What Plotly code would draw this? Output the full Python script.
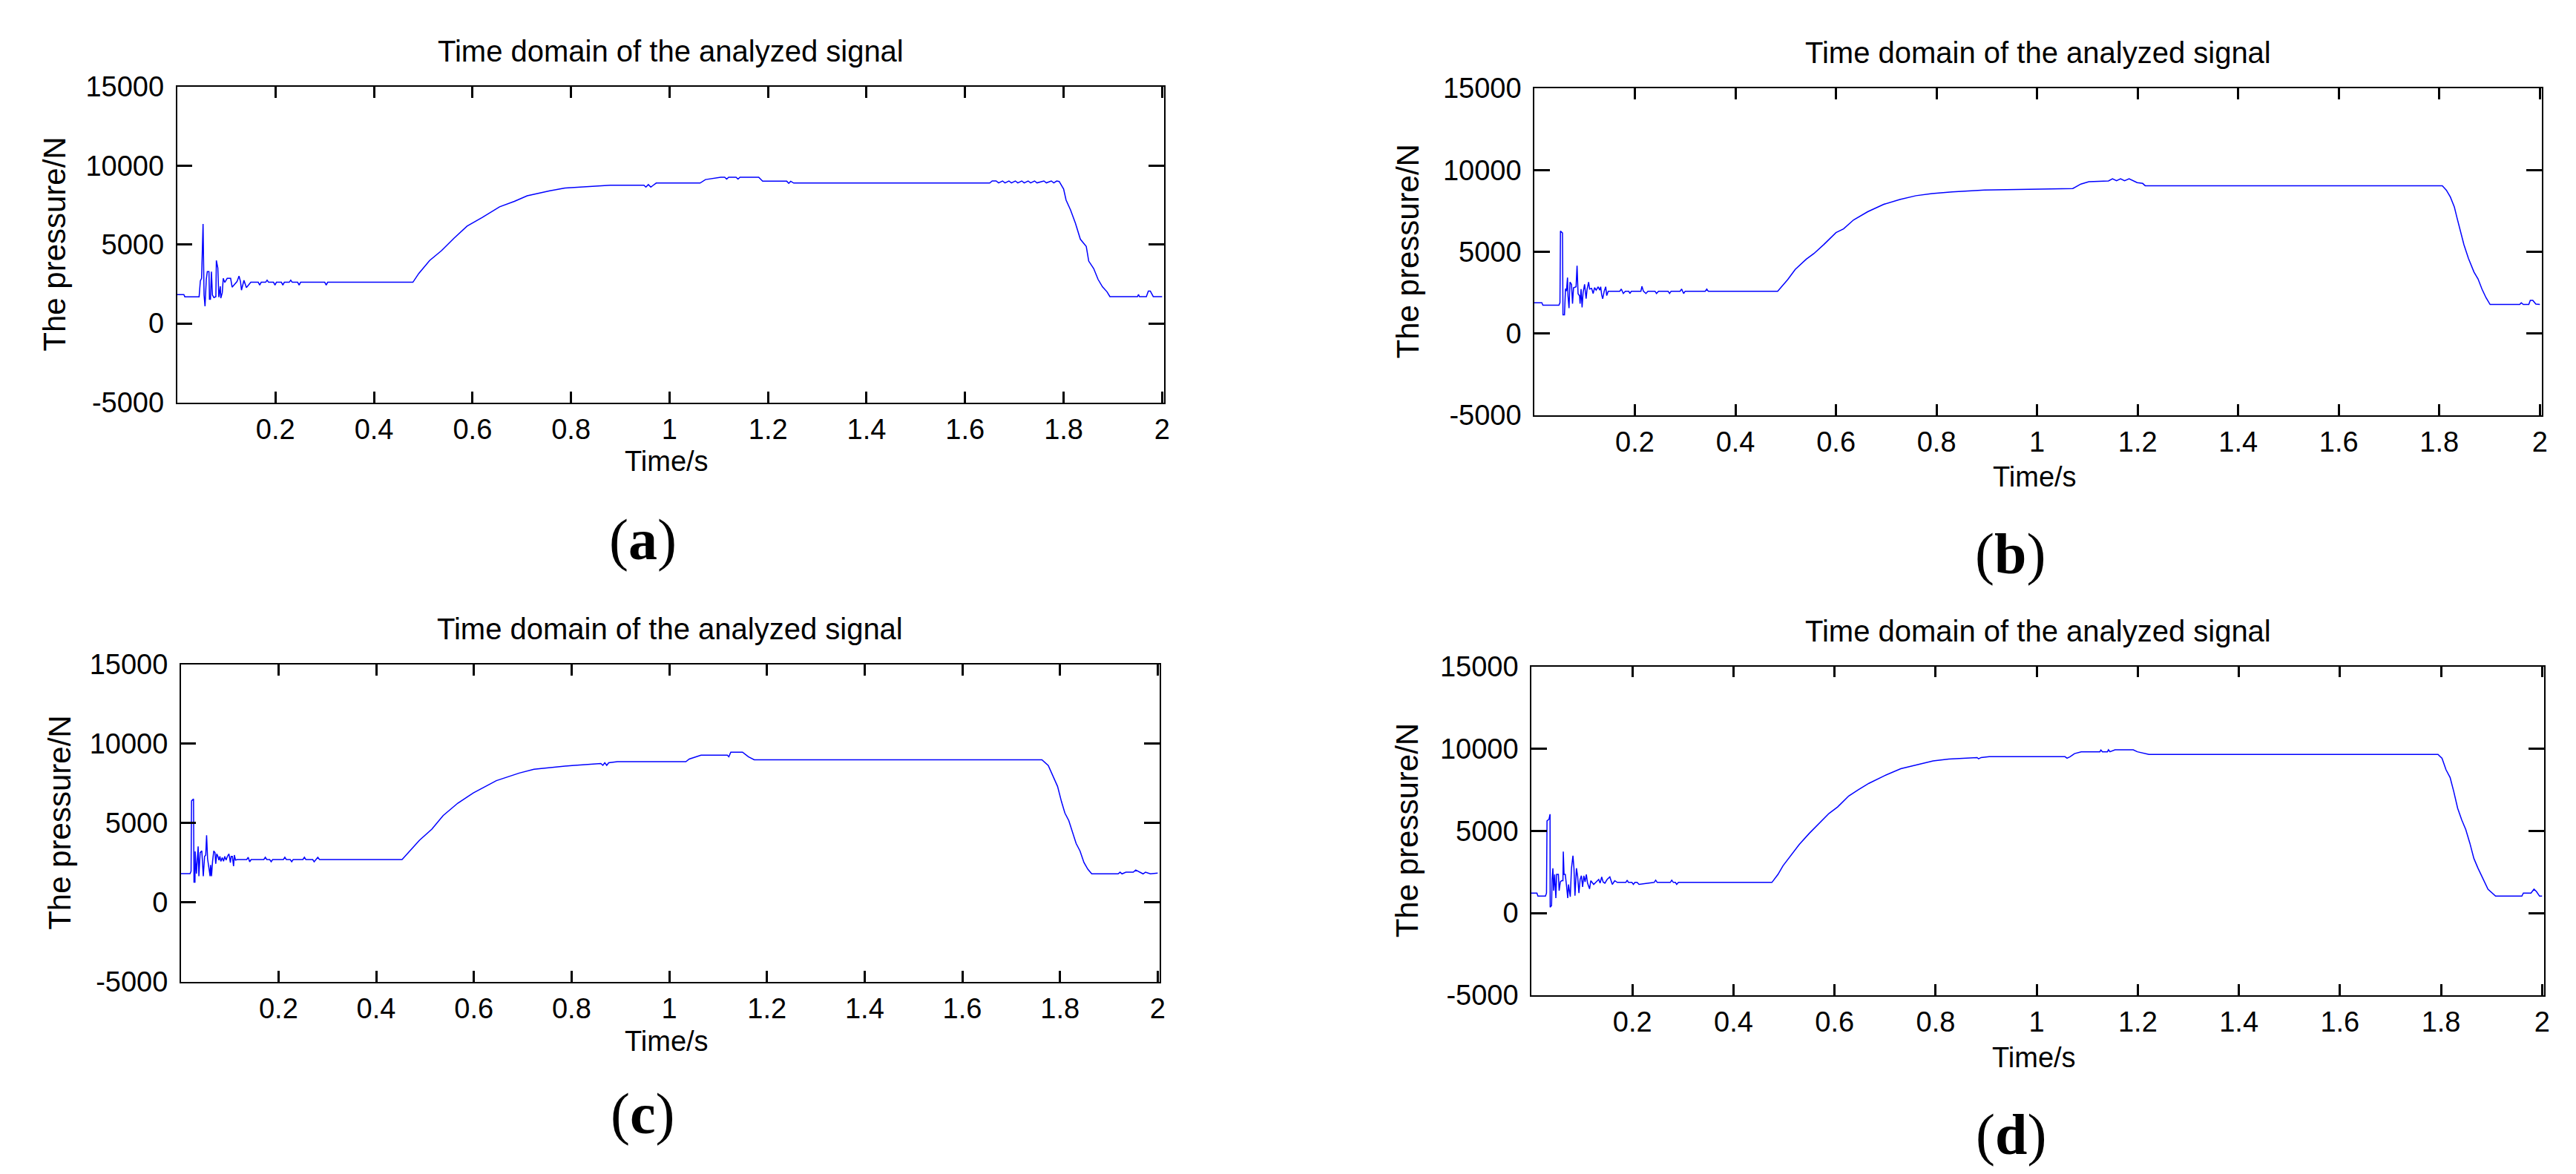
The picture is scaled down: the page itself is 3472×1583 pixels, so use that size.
import plotly.graph_objects as go

W, H = 3472, 1583

# ---------------- data ----------------
x_tickvals = [0.2, 0.4, 0.6, 0.8, 1.0, 1.2, 1.4, 1.6, 1.8, 2.0]
x_ticktext = ["0.2", "0.4", "0.6", "0.8", "1", "1.2", "1.4", "1.6", "1.8", "2"]
y_tickvals = [-5000, 0, 5000, 10000, 15000]
y_ticktext = ["-5000", "0", "5000", "10000", "15000"]

title_text = "Time domain of the analyzed signal"
xlabel_text = "Time/s"
ylabel_text = "The pressure/N"
panel_letters = ["a", "b", "c", "d"]

# panel (a)
t_a = [0.000, 0.014, 0.016, 0.045, 0.0475, 0.050, 0.053, 0.055, 0.057, 0.0596, 0.0616, 0.065, 0.066,
       0.068, 0.070, 0.072, 0.075, 0.079, 0.080, 0.083, 0.085, 0.088, 0.089, 0.092, 0.094, 0.097,
       0.102, 0.109, 0.112, 0.117, 0.122, 0.126, 0.129, 0.131, 0.136, 0.141, 0.150, 0.165, 0.168,
       0.171, 0.180, 0.183, 0.186, 0.196, 0.199, 0.202, 0.212, 0.215, 0.218, 0.228, 0.231, 0.234,
       0.245, 0.248, 0.251, 0.300, 0.303, 0.306, 0.352, 0.479, 0.491, 0.513, 0.537, 0.562, 0.589,
       0.620, 0.655, 0.685, 0.711, 0.757, 0.788, 0.835, 0.880, 0.948, 0.952, 0.957, 0.962, 0.967,
       0.973, 1.062, 1.073, 1.104, 1.112, 1.116, 1.120, 1.135, 1.139, 1.143, 1.181, 1.189, 1.238,
       1.242, 1.246, 1.252, 1.650, 1.655, 1.663, 1.668, 1.676, 1.681, 1.689, 1.694, 1.702, 1.707,
       1.715, 1.720, 1.728, 1.733, 1.741, 1.746, 1.760, 1.765, 1.775, 1.780, 1.786, 1.791, 1.800,
       1.805, 1.814, 1.824, 1.829, 1.834, 1.846, 1.851, 1.861, 1.870, 1.879, 1.888, 1.894, 1.950,
       1.952, 1.954, 1.968, 1.972, 1.976, 1.982, 2.000]
p_a = [1830, 1830, 1690, 1690, 2700, 2860, 6300, 1800, 1090, 2800, 3280, 3280, 1530,
       1530, 3280, 1800, 1640, 1700, 3990, 3520, 1670, 2350, 1600, 1950, 2860, 2600,
       2860, 2860, 2300, 2500, 2660, 3000, 2660, 2110, 2730, 2270, 2610, 2610, 2430,
       2610, 2610, 2740, 2610, 2610, 2430, 2610, 2610, 2430, 2610, 2610, 2740, 2610,
       2610, 2430, 2610, 2610, 2430, 2610, 2610, 2610, 3170, 3990, 4610, 5390, 6170,
       6720, 7390, 7740, 8090, 8410, 8580, 8690, 8760, 8760, 8640, 8800, 8640, 8760,
       8900, 8900, 9120, 9270, 9270, 9150, 9270, 9270, 9150, 9270, 9270, 9013, 9013,
       8880, 9013, 8900, 8900, 9030, 9030, 8910, 9030, 8910, 9030, 8910, 9030, 8910,
       9030, 8910, 9030, 8910, 9030, 8910, 9030, 8910, 9030, 8910, 9030, 9000, 8520,
       7820, 7200, 6350, 5810, 5340, 4880, 3950, 3480, 2790, 2320, 2010, 1700, 1700,
       1830, 1700, 1700, 2050, 2050, 1700, 1700]

# panel (b)
t_b = [0.000, 0.015, 0.017, 0.049, 0.051, 0.052, 0.056, 0.057, 0.060, 0.062, 0.064, 0.066, 0.067,
       0.069, 0.071, 0.074, 0.076, 0.078, 0.083, 0.085, 0.087, 0.090, 0.091, 0.093, 0.095, 0.097,
       0.100, 0.103, 0.105, 0.108, 0.110, 0.114, 0.117, 0.120, 0.123, 0.127, 0.130, 0.132, 0.134,
       0.136, 0.139, 0.142, 0.144, 0.147, 0.170, 0.173, 0.177, 0.181, 0.188, 0.190, 0.193, 0.212,
       0.214, 0.217, 0.222, 0.226, 0.230, 0.240, 0.243, 0.247, 0.266, 0.269, 0.272, 0.290, 0.293,
       0.297, 0.300, 0.340, 0.343, 0.346, 0.484, 0.504, 0.519, 0.541, 0.556, 0.576, 0.600, 0.615,
       0.635, 0.663, 0.695, 0.727, 0.759, 0.791, 0.831, 0.895, 1.071, 1.087, 1.103, 1.142, 1.150,
       1.158, 1.166, 1.174, 1.183, 1.191, 1.199, 1.210, 1.215, 1.806, 1.814, 1.822, 1.830, 1.835,
       1.842, 1.849, 1.858, 1.869, 1.877, 1.885, 1.893, 1.901, 1.960, 1.963, 1.967, 1.978, 1.981,
       1.986, 1.992, 2.000]
p_b = [1880, 1880, 1730, 1730, 1890, 6270, 6150, 1150, 1150, 2740, 2600, 3420, 2300,
       1560, 3150, 3000, 1830, 2800, 2860, 4150, 2440, 2300, 1830, 2720, 1600, 2500,
       3010, 2140, 2720, 3150, 2720, 2760, 2450, 2810, 2650, 2860, 2650, 2860, 2360,
       2130, 2590, 2860, 2320, 2590, 2590, 2720, 2450, 2590, 2590, 2450, 2590, 2590,
       2890, 2590, 2450, 2590, 2590, 2590, 2450, 2590, 2590, 2450, 2590, 2590, 2720,
       2450, 2590, 2590, 2720, 2590, 2590, 3300, 3920, 4550, 4890, 5450, 6170, 6400,
       6950, 7450, 7900, 8200, 8430, 8560, 8660, 8770, 8870, 9140, 9290, 9330, 9460,
       9350, 9460, 9350, 9460, 9340, 9230, 9180, 9040, 9040, 8770, 8350, 7730, 7100,
       6260, 5430, 4590, 3760, 3340, 2710, 2190, 1775, 1775, 1880, 1775, 1775, 2030,
       2030, 1800, 1775]

# panel (c)
t_c = [0.000, 0.019, 0.021, 0.022, 0.026, 0.027, 0.029, 0.0294, 0.032, 0.0355, 0.037, 0.0396, 0.043,
       0.0446, 0.046, 0.0487, 0.051, 0.0528, 0.0548, 0.0578, 0.0599, 0.061, 0.0629, 0.065, 0.0675,
       0.070, 0.0715, 0.0736, 0.076, 0.078, 0.080, 0.082, 0.085, 0.0875, 0.090, 0.0927, 0.0954,
       0.0985, 0.1005, 0.1015, 0.103, 0.1055, 0.108, 0.1096, 0.112, 0.1157, 0.135, 0.138, 0.141,
       0.144, 0.170, 0.173, 0.176, 0.182, 0.185, 0.188, 0.210, 0.213, 0.216, 0.224, 0.227, 0.230,
       0.250, 0.253, 0.256, 0.270, 0.273, 0.2805, 0.284, 0.453, 0.4886, 0.514, 0.537, 0.567,
       0.5875, 0.599, 0.646, 0.693, 0.723, 0.801, 0.860, 0.864, 0.868, 0.872, 0.876, 0.894, 1.034,
       1.041, 1.065, 1.119, 1.122, 1.126, 1.150, 1.162, 1.174, 1.763, 1.776, 1.787, 1.795, 1.803,
       1.810, 1.818, 1.826, 1.833, 1.841, 1.849, 1.857, 1.865, 1.919, 1.923, 1.927, 1.935, 1.950,
       1.955, 1.970, 1.975, 1.985, 1.996, 2.000]
p_c = [1810, 1810, 1966, 6400, 6519, 1267, 1267, 3213, 1810, 3525, 1653, 3135, 3245,
       2044, 1653, 2900, 2978, 4226, 2744, 2121, 1653, 2355, 1653, 2588, 3245,
       3135, 2432, 3057, 2900, 2666, 2900, 2588, 2822, 2588, 2900, 2666, 2900,
       3057, 2666, 2510, 2900, 2900, 2277, 2978, 2666, 2699, 2699, 2840, 2560,
       2699, 2699, 2840, 2699, 2699, 2560, 2699, 2699, 2840, 2699, 2699, 2560, 2699,
       2699, 2840, 2699, 2699, 2560, 2840, 2699, 2699, 3914, 4615, 5472, 6253,
       6674, 6900, 7674, 8153, 8393, 8633, 8753, 8640, 8800, 8640, 8800, 8873, 8873,
       9040, 9280, 9280, 9180, 9470, 9470, 9184, 8993, 8993, 8633, 7913, 7314, 6355,
       5635, 5156, 4436, 3717, 3237, 2518, 2086, 1798, 1798, 1900, 1798, 1900, 1900,
       2038, 1798, 1900, 1798, 1846, 1846]

# panel (d)
t_d = [0.000, 0.011, 0.013, 0.028, 0.030, 0.031, 0.035, 0.037, 0.0372, 0.040, 0.041, 0.0426, 0.0441,
       0.0461, 0.0485, 0.050, 0.0535, 0.055, 0.0573, 0.0598, 0.0625, 0.0632, 0.0647, 0.0671, 0.0696,
       0.072, 0.0735, 0.075, 0.077, 0.0794, 0.0823, 0.0843, 0.0863, 0.0892, 0.0917, 0.0941, 0.0965,
       0.099, 0.1014, 0.1039, 0.1063, 0.1088, 0.1112, 0.1152, 0.1176, 0.1234, 0.128, 0.1333, 0.136,
       0.1392, 0.142, 0.1455, 0.150, 0.1553, 0.1602, 0.165, 0.170, 0.187, 0.1896, 0.192, 0.199,
       0.2019, 0.205, 0.2093, 0.213, 0.243, 0.246, 0.249, 0.275, 0.2778, 0.281, 0.285, 0.2876,
       0.291, 0.476, 0.488, 0.498, 0.515, 0.530, 0.550, 0.564, 0.589, 0.606, 0.628, 0.647, 0.668,
       0.699, 0.731, 0.763, 0.795, 0.826, 0.882, 0.885, 0.890, 0.906, 1.056, 1.060, 1.066, 1.075,
       1.088, 1.125, 1.127, 1.130, 1.140, 1.142, 1.145, 1.155, 1.191, 1.199, 1.222, 1.794, 1.802,
       1.810, 1.818, 1.825, 1.833, 1.841, 1.849, 1.857, 1.865, 1.873, 1.884, 1.893, 1.908, 1.960,
       1.963, 1.978, 1.984, 1.989, 1.995, 2.000]
p_d = [1214, 1214, 1032, 1032, 1214, 5608, 5714, 6016, 351, 457, 2045, 2727, 1363,
       2348, 912, 2348, 2348, 1363, 1893, 1969, 1969, 3742, 2348, 2348, 1666,
       912, 1742, 1439, 988, 2727, 3484, 2727, 1060, 2727, 2197, 1214, 2045,
       2272, 1590, 2272, 1893, 2348, 1818, 1469, 1969, 1742, 1893, 2045, 1818,
       2197, 1893, 1818, 2045, 2197, 1742, 1969, 1863, 1863, 2000, 1863, 1863,
       1740, 1863, 1863, 1740, 1863, 2000, 1863, 1863, 2000, 1863, 1863, 1740,
       1863, 1863, 2350, 2880, 3560, 4170, 4850, 5300, 6060, 6450, 7120, 7500, 7890,
       8360, 8780, 9020, 9250, 9370, 9460, 9380, 9460, 9510, 9510, 9420, 9510, 9700,
       9810, 9810, 9920, 9810, 9810, 9930, 9810, 9930, 9930, 9810, 9650, 9650, 9415,
       8712, 8244, 7424, 6370, 5668, 5082, 4262, 3326, 2740, 2038, 1452, 1030, 1030,
       1218, 1218, 1452, 1300, 1030, 1030]

series = [(t_a, p_a), (t_b, p_b), (t_c, p_c), (t_d, p_d)]

# ---------------- layout geometry (pixels of the 3472x1583 page) ----------------
# plot boxes: left, right, top, bottom
boxes = [(230.5, 1561, 109, 534.5),
         (2060, 3418, 111, 552),
         (235.7, 1555, 888, 1315.6),
         (2056, 3421, 890.6, 1334)]
title_y = [61, 63, 840, 843]
ylabel_x = [66, 1889, 73, 1888]
xlabel_y = [614, 635, 1396, 1418]
letter_pos = [(858, 719), (2701, 739), (858, 1493), (2702, 1521)]

SANS = "Liberation Sans, Arial, Helvetica, sans-serif"
SERIF = "Liberation Serif, Times New Roman, serif"


def px(x):
    return x / W


def py(y):
    return 1 - y / H


fig = go.Figure()
layout = dict(width=W, height=H, margin=dict(l=0, r=0, t=0, b=0, pad=0, autoexpand=False),
              paper_bgcolor="white", plot_bgcolor="white", showlegend=False)
annotations = []

for i, ((t, p), (l, r, top, bot)) in enumerate(zip(series, boxes)):
    n = i + 1
    xs = "x" if n == 1 else f"x{n}"
    ys = "y" if n == 1 else f"y{n}"
    fig.add_trace(go.Scatter(x=t, y=p, mode="lines", xaxis=xs, yaxis=ys,
                             line=dict(color="#0000ff", width=1.5), hoverinfo="skip"))
    common = dict(showgrid=False, zeroline=False, showline=True, linecolor="black",
                  linewidth=1.5, mirror="ticks", ticks="inside", tickcolor="black",
                  tickwidth=2.5, automargin=False,
                  tickfont=dict(family=SANS, size=38, color="black"))
    layout["xaxis" if n == 1 else f"xaxis{n}"] = dict(
        domain=[px(l), px(r)], anchor=ys, range=[0, 2.004],
        tickmode="array", tickvals=x_tickvals, ticktext=x_ticktext,
        ticklen=15, ticklabelstandoff=2, **common)
    layout["yaxis" if n == 1 else f"yaxis{n}"] = dict(
        domain=[py(bot), py(top)], anchor=xs, range=[-5000, 15000],
        tickmode="array", tickvals=y_tickvals, ticktext=y_ticktext,
        ticklen=21, ticklabelstandoff=8, **common)

    cx = (l + r) / 2
    annotations.append(dict(text=title_text, x=px(cx), y=py(title_y[i]), xref="paper", yref="paper",
                            showarrow=False, xanchor="center", yanchor="middle",
                            font=dict(family=SANS, size=40, color="black")))
    annotations.append(dict(text=xlabel_text, x=px(cx - 5), y=py(xlabel_y[i]), xref="paper", yref="paper",
                            showarrow=False, xanchor="center", yanchor="middle",
                            font=dict(family=SANS, size=38, color="black")))
    annotations.append(dict(text=ylabel_text, x=px(ylabel_x[i]), y=py((top + bot) / 2), xref="paper",
                            yref="paper", showarrow=False, xanchor="center", yanchor="middle",
                            textangle=-90, font=dict(family=SANS, size=42, color="black")))
    lx, ly = letter_pos[i]
    annotations.append(dict(text=f"(<b>{panel_letters[i]}</b>)", x=px(lx), y=py(ly), xref="paper",
                            yref="paper", showarrow=False, xanchor="center", yanchor="middle",
                            font=dict(family=SERIF, size=78, color="black")))

layout["annotations"] = annotations
fig.update_layout(**layout)
fig.write_html("out.html")
